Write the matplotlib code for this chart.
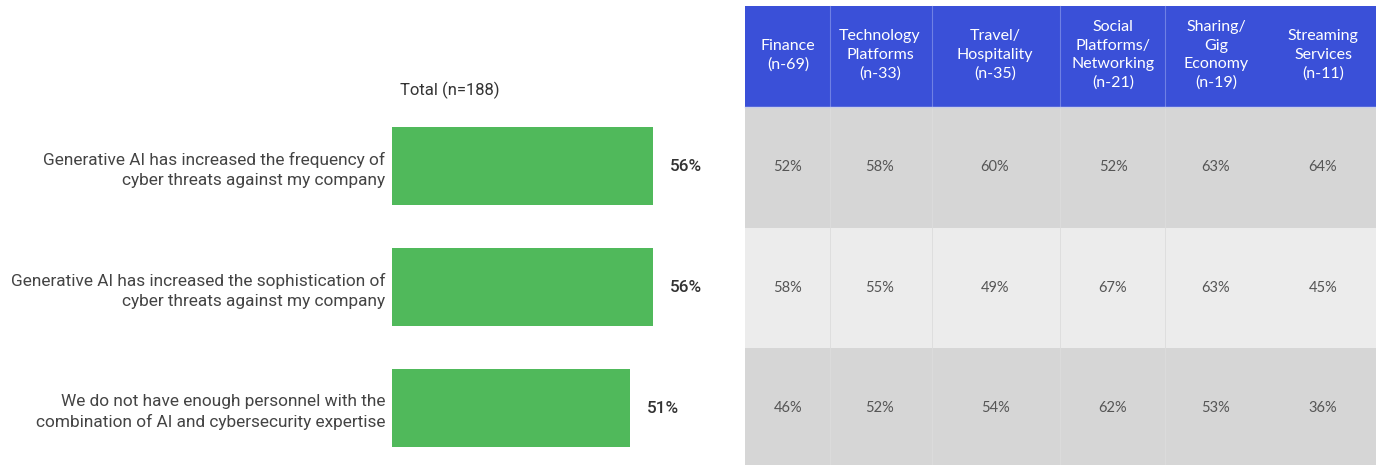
import matplotlib.pyplot as plt
from matplotlib.patches import Rectangle

# survey statements and overall share agreeing
statements = [
    "Generative AI has increased the frequency of\ncyber threats against my company",
    "Generative AI has increased the sophistication of\ncyber threats against my company",
    "We do not have enough personnel with the\ncombination of AI and cybersecurity expertise",
]
total = [56, 56, 51]
total_label = "Total (n=188)"

# breakdown by industry
industries = [
    "Finance\n(n-69)",
    "Technology\nPlatforms\n(n-33)",
    "Travel/\nHospitality\n(n-35)",
    "Social\nPlatforms/\nNetworking\n(n-21)",
    "Sharing/\nGig\nEconomy\n(n-19)",
    "Streaming\nServices\n(n-11)",
]
by_industry = [
    [52, 58, 60, 52, 63, 64],
    [58, 55, 49, 67, 63, 45],
    [46, 52, 54, 62, 53, 36],
]

W, H = 1376, 465
fig = plt.figure(figsize=(W / 100, H / 100), dpi=100)
fig.patch.set_facecolor("white")

GREEN = "#50b95b"
BLUE = "#3a50d8"
LABEL = "#444444"


def px_axes(x0, y0, x1, y1):
    # axes placed by pixel box, y measured from the top
    return fig.add_axes([x0 / W, 1 - y1 / H, (x1 - x0) / W, (y1 - y0) / H])


# ---- left: total bars ----
ax = px_axes(392, 106, 730, 465)
px_per_pct = 4.66
ax.set_xlim(0, (730 - 392) / px_per_pct)
ax.set_ylim(2.47, -0.496)
rows = range(len(total))
ax.barh(rows, total, height=0.645, color=GREEN)
for i, v in enumerate(total):
    ax.text(v + 3.7, i, f"{v}%", va="center", ha="left", fontsize=12.3,
            family="Roboto", fontweight="medium", color="#333333")
ax.set_yticks(list(rows))
ax.set_yticklabels(statements, family="Roboto", fontsize=12.4, color=LABEL,
                   linespacing=1.4)
ax.tick_params(axis="y", length=0, pad=5)
ax.set_xticks([])
for s in ax.spines.values():
    s.set_visible(False)
fig.text(400 / W, 1 - 90 / H, total_label, family="Roboto", fontsize=12,
         color="#333333", va="center", ha="left")

# ---- right: industry table ----
tx = px_axes(0, 0, W, H)
tx.set_xlim(0, W)
tx.set_ylim(H, 0)
tx.axis("off")

edges = [745, 830, 932, 1060, 1165, 1376]
centers = [788, 880, 995, 1113, 1216, 1323]
head_top, head_bot = 6, 107
row_h = 120.5
row_colors = ["#d6d6d6", "#ececec", "#d6d6d6"]

tx.add_patch(Rectangle((edges[0], head_top), edges[-1] - edges[0],
                       head_bot - head_top, color=BLUE, lw=0))
for i, c in enumerate(row_colors):
    tx.add_patch(Rectangle((edges[0], head_bot + i * row_h), edges[-1] - edges[0],
                           row_h, color=c, lw=0))
for e in edges[1:-1]:
    tx.plot([e, e], [head_top, head_bot], color="#6f80e4", lw=0.8)
    tx.plot([e, e], [head_bot, H], color="#dcdcdc", lw=0.6)
tx.plot([edges[0], edges[-1]], [head_bot, head_bot], color="#c9cfe8", lw=1)

for x, name in zip(centers, industries):
    tx.text(x, 55, name, ha="center", va="center", color="white",
            family="Lato", fontsize=11.5, linespacing=1.4)

for r, vals in enumerate(by_industry):
    yc = head_bot + (r + 0.5) * row_h
    for x, v in zip(centers, vals):
        tx.text(x, yc, f"{v}%", ha="center", va="center", color="#555555",
                family="Lato", fontsize=10.5)

fig.savefig("out.png", dpi=100, facecolor="white")
